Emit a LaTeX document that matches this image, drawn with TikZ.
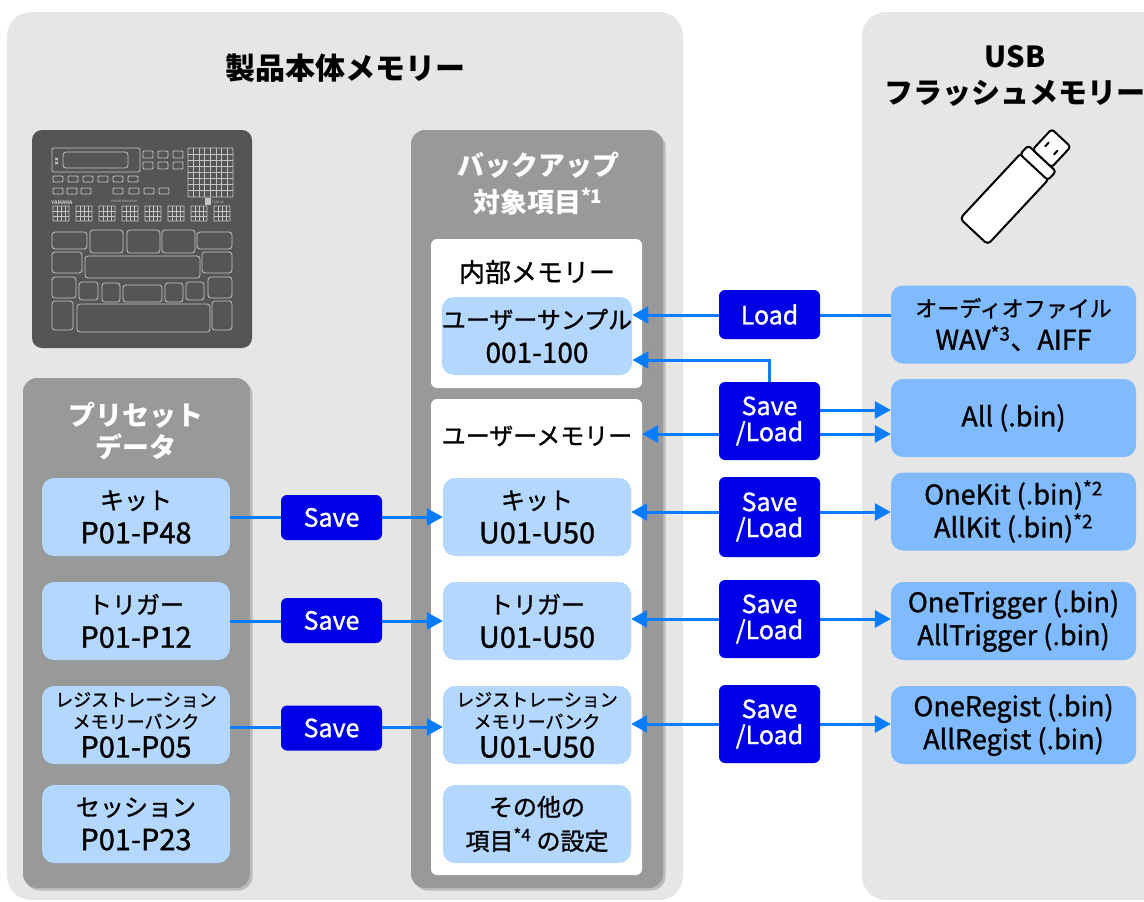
\documentclass[tikz,border=0pt]{standalone}
\usepackage{fontspec}
\setmainfont{Noto Sans CJK JP}
\newfontfamily\medfont{Noto Sans CJK JP}[FakeBold=1.1]
\usetikzlibrary{arrows.meta,shadows,calc}

\definecolor{panelgray}{HTML}{E6E6E6}
\definecolor{midgray}{HTML}{999999}
\definecolor{devgray}{HTML}{555555}
\definecolor{devline}{HTML}{C4C4C4}
\definecolor{paleblue}{HTML}{B3D7FF}
\definecolor{usbblue}{HTML}{80BBFF}
\definecolor{btnblue}{HTML}{0000E6}
\definecolor{linkblue}{HTML}{0A7CFF}

\newcommand\fs[2]{\fontsize{#1}{#2}\selectfont}
\newcommand\fnote[1]{\textsuperscript{*#1}}

\pgfdeclarelayer{panels}
\pgfdeclarelayer{links}
\pgfsetlayers{panels,links,main}

\tikzset{
  tohead/.style={-{Triangle[length=16pt,width=17pt]}},
  bothheads/.style={{Triangle[length=16pt,width=17pt]}-{Triangle[length=16pt,width=17pt]}},
  grouppanel/.style={fill=midgray, rounded corners=14pt,
    drop shadow={shadow xshift=2.5pt, shadow yshift=-2.5pt, opacity=0.18, fill=black}},
  whitebox/.style={fill=white, rounded corners=6pt, inner sep=0pt},
  itembox/.style={fill=paleblue, rounded corners=12pt, minimum width=188pt,
    minimum height=78pt, align=center, inner sep=0pt, font=\medfont\fs{24}{34}},
  filebox/.style={fill=usbblue, rounded corners=12pt, minimum width=245pt,
    minimum height=78pt, align=center, inner sep=0pt, font=\medfont\fs{27}{33}},
  actbtn/.style={fill=btnblue, rounded corners=6pt, minimum width=101pt,
    text=white, align=center, inner sep=0pt, font=\medfont\fs{25}{26}},
  flow/.style={draw=linkblue, line width=3pt},
  grouptitle/.style={text=white, align=center, font=\bfseries\fs{27}{37}},
  devpart/.style={draw=devline, line width=0.8pt, rounded corners=3pt},
}

\begin{document}
\begin{tikzpicture}[x=1pt,y=-1pt]
\useasboundingbox (0,0) rectangle (1144,902);
\clip (0,0) rectangle (1144,902);

\begin{pgfonlayer}{panels}
  % outer memory areas
  \fill[panelgray, rounded corners=24pt] (7,12) rectangle (683,900);
  \fill[panelgray, rounded corners=24pt] (862,12) rectangle (1200,900);

  % instrument top view
  \fill[devgray, rounded corners=10pt] (32,130) rectangle (252,348);
  \begin{scope}[devpart]
    \draw[rounded corners=2pt] (52,148) rectangle (140,172);
    \draw (63,152) rectangle (128,168);
    \fill[devline] (55,158) rectangle ++(3,2);
    \fill[devline] (55,162) rectangle ++(3,2);
    \foreach \x in {143,158,173} {
      \draw[rounded corners=1pt] (\x,151) rectangle ++(10,7);
      \draw[rounded corners=1pt] (\x,162) rectangle ++(10,7);
    }
    \foreach \x in {53,68,83,98,113,128}
      \draw[rounded corners=1pt] (\x,176) rectangle ++(10,6);
    \foreach \x in {53,67,81,113,129,144,159}
      \draw[rounded corners=1pt] (\x,188) rectangle ++(10,6);
    % 8x8 pad grid
    \draw[rounded corners=1pt] (188,148) rectangle (233,197);
    \foreach \i in {1,...,7} {
      \draw[rounded corners=0pt] (188+\i*5.625,148) -- ++(0,49);
      \draw[rounded corners=0pt] (188,148+\i*6.125) -- ++(45,0);
    }
    % row of small finger pads
    \foreach \k in {0,...,7} {
      \draw[rounded corners=0.5pt] (53+\k*23,206) rectangle ++(16,15);
      \foreach \j in {1,2,3}
        \draw[rounded corners=0pt] (53+\k*23+\j*4,206) -- ++(0,15);
      \foreach \j in {1,2}
        \draw[rounded corners=0pt] (53+\k*23,206+\j*5) -- ++(16,0);
    }
    % large pads
    \draw (52,232) rectangle (87,249);
    \draw (90,230) rectangle (123,253);
    \draw (127,230) rectangle (160,253);
    \draw (162,230) rectangle (195,253);
    \draw (197,232) rectangle (232,249);
    \draw (52,252) rectangle (82,273);
    \draw (85,256) rectangle (200,278);
    \draw (202,252) rectangle (232,273);
    \draw (52,277) rectangle (76,298);
    \draw (79,282) rectangle (98,300);
    \draw (102,283) rectangle (120,302);
    \draw (123,285) rectangle (162,302);
    \draw (165,283) rectangle (183,302);
    \draw (186,282) rectangle (204,300);
    \draw (208,277) rectangle (232,298);
    \draw (52,301) rectangle (73,330);
    \draw (77,304) rectangle (210,332);
    \draw (212,301) rectangle (232,330);
  \end{scope}
  \node[text=devline, font=\bfseries\fs{5}{5}, inner sep=0pt] (brand) at (62,203) {YAMAHA};
  \node[text=devline, font=\fs{3}{3}, inner sep=0pt] (model) at (124,201) {FINGER DRUM PAD};
  \fill[devline] (205,198) rectangle (211,205);
  \node[text=devline, font=\fs{3}{3}, inner sep=0pt, anchor=west] (code) at (212,202) {FGDP-50};

  % group panels
  \fill[grouppanel] (23,378) rectangle (250,888);
  \fill[grouppanel] (411,130) rectangle (663,888);

  % white containers inside the backup group
  \node[whitebox, minimum width=211pt, minimum height=149pt] (intmem) at (536.5,313.5) {};
  \node[whitebox, minimum width=211pt, minimum height=476pt] (usermem) at (536.5,637) {};

  % USB stick
  \begin{scope}[shift={(1008,195)}, rotate=47, draw=black, fill=white,
                line width=2pt, line join=round]
    \filldraw[rounded corners=4pt] (-50,-19) rectangle (40,19);
    \filldraw[rounded corners=3pt] (38,-19) rectangle (50,19);
    \filldraw[rounded corners=3pt] (50,-13) rectangle (78,13);
    \draw[line cap=round] (61,-6) -- (66,-6);
    \draw[line cap=round] (61,6) -- (66,6);
  \end{scope}
\end{pgfonlayer}

% headings
\node[font=\bfseries\fs{30}{36}] (maintitle) at (345,68) {製品本体メモリー};
\node[font=\bfseries\fs{29}{36}, align=center] (usbtitle) at (1015,76) {USB\\フラッシュメモリー};
\node[grouptitle, font=\bfseries\fs{27}{32}] (presettitle) at (136,431) {プリセット\\データ};
\node[grouptitle] (backuptitle) at (538,184) {バックアップ\\対象項目\fnote{1}};

\node[font=\medfont\fs{26}{30}] (intlabel) at (537,272) {内部メモリー};
\node[font=\medfont\fs{24}{30}] (userlabel) at (537,436) {ユーザーメモリー};

% product memory items
\node[itembox] (usmp) at (537,336) {ユーザーサンプル\\{\fs{28}{34}001-100}};
\node[itembox] (pkit) at (136,517) {キット\\{\fs{29}{34}P01-P48}};
\node[itembox] (ptrg) at (136,621) {トリガー\\{\fs{29}{34}P01-P12}};
\node[itembox, font=\medfont\fs{18}{22}] (preg) at (136,725)
  {レジストレーション\\メモリーバンク\\[6pt]{\fs{29}{34}P01-P05}};
\node[itembox] (pses) at (136,824) {セッション\\{\fs{29}{34}P01-P23}};
\node[itembox] (ukit) at (537,517) {キット\\{\fs{29}{34}U01-U50}};
\node[itembox] (utrg) at (537,621) {トリガー\\{\fs{29}{34}U01-U50}};
\node[itembox, font=\medfont\fs{18}{22}] (ureg) at (537,725)
  {レジストレーション\\メモリーバンク\\[6pt]{\fs{29}{34}U01-U50}};
\node[itembox] (uoth) at (537,824) {その他の\\項目\fnote{4} の設定};

% USB files
\node[filebox] (faud) at (1013.5,324.5) {{\fs{22}{33}オーディオファイル}\\WAV\fnote{3}、AIFF};
\node[filebox] (fall) at (1013.5,418) {All (.bin)};
\node[filebox] (fkit) at (1013.5,511.5) {OneKit (.bin)\fnote{2}\\AllKit (.bin)\fnote{2}};
\node[filebox] (ftrg) at (1013.5,621) {OneTrigger (.bin)\\AllTrigger (.bin)};
\node[filebox] (freg) at (1013.5,725) {OneRegist (.bin)\\AllRegist (.bin)};

% operations
\node[actbtn, minimum height=49pt] (load) at (769.5,314.5) {Load};
\node[actbtn, minimum height=78pt] (sl1) at (769.5,421) {Save\\/Load};
\node[actbtn, minimum height=80pt] (sl2) at (769.5,517) {Save\\/Load};
\node[actbtn, minimum height=78pt] (sl3) at (769.5,619) {Save\\/Load};
\node[actbtn, minimum height=78pt] (sl4) at (769.5,724) {Save\\/Load};
\node[actbtn, minimum height=45pt] (sv1) at (331.5,517.5) {Save};
\node[actbtn, minimum height=45pt] (sv2) at (331.5,620.5) {Save};
\node[actbtn, minimum height=45pt] (sv3) at (331.5,728) {Save};

% connectors
\begin{pgfonlayer}{links}
  \draw[flow, tohead] (faud.west |- 0,315) -- (usmp.east |- 0,315);
  \draw[flow, tohead] (sl1.north) -- (sl1.north |- 0,360) -- (usmp.east |- 0,360);
  \draw[flow, tohead] (sl1.east |- 0,410) -- (fall.west |- 0,410);
  \draw[flow, tohead] (sl1.east |- 0,434) -- (fall.west |- 0,434);
  \draw[flow, tohead] (sl1.west |- 0,434) -- (usermem.east |- 0,434);
  \draw[flow, bothheads] (ukit.east |- 0,512) -- (fkit.west |- 0,512);
  \draw[flow, bothheads] (utrg.east |- 0,619) -- (ftrg.west |- 0,619);
  \draw[flow, bothheads] (ureg.east |- 0,724) -- (freg.west |- 0,724);
  \draw[flow, tohead] (pkit.east |- 0,517) -- (ukit.west |- 0,517);
  \draw[flow, tohead] (ptrg.east |- 0,621) -- (utrg.west |- 0,621);
  \draw[flow, tohead] (preg.east |- 0,727) -- (ureg.west |- 0,727);
\end{pgfonlayer}
\end{tikzpicture}
\end{document}
